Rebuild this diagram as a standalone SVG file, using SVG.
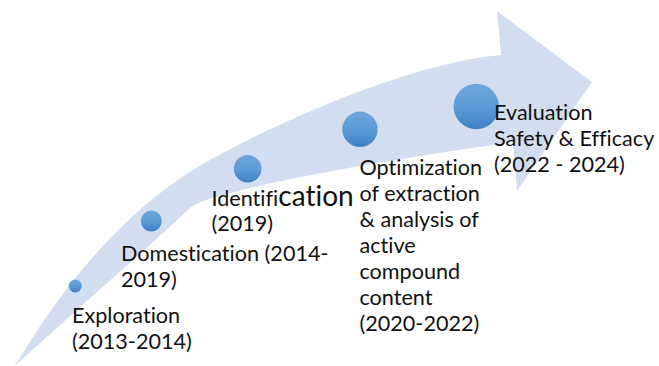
<svg xmlns="http://www.w3.org/2000/svg" width="659" height="366" viewBox="0 0 659 366">
  <defs>
    <linearGradient id="ball" x1="0" y1="0" x2="0" y2="1">
      <stop offset="0" stop-color="#6FA7DE"/>
      <stop offset="0.5" stop-color="#5B9BD8"/>
      <stop offset="1" stop-color="#3F80C6"/>
    </linearGradient>
    <style>
      .milestone { fill: url(#ball); }
      .label { font-family: Lato, "Liberation Sans", sans-serif; font-size: 21.6px; fill: #111111; font-variant-ligatures: none; }
    </style>
  </defs>
  <rect width="659" height="366" fill="#ffffff"/>

  <!-- curved progress arrow -->
  <g id="arrow">
    <path fill="#D2DEEF" d="M15,366
      C60,290 120,215 193,170
      C259,129.5 410,62 501,55
      L497,11 L592,82 L517,191 L513,142
      C330,168 205,194 190,208
      C140,255 70,315 15,366 Z"/>
  </g>

  <g id="exploration">
    <circle class="milestone" cx="75.3" cy="286" r="6.5"/>
    <text class="label" x="72" y="323">Exploration</text>
    <text class="label" x="72" y="349">(2013-2014)</text>
  </g>

  <g id="domestication">
    <circle class="milestone" cx="151.3" cy="221" r="10.5"/>
    <text class="label" x="121" y="260.5">Domestication (2014-</text>
    <text class="label" x="121" y="286.5">2019)</text>
  </g>

  <g id="identification">
    <circle class="milestone" cx="247.7" cy="168.7" r="13.8"/>
    <text class="label" x="211.5" y="205.5">Identifi<tspan font-size="28">cation</tspan></text>
    <text class="label" x="211.5" y="231">(2019)</text>
  </g>

  <g id="optimization">
    <circle class="milestone" cx="360" cy="129.3" r="17.7"/>
    <text class="label" x="359.5" y="175">Optimization</text>
    <text class="label" x="359.5" y="201">of extraction</text>
    <text class="label" x="359.5" y="227">&amp; analysis of</text>
    <text class="label" x="359.5" y="253">active</text>
    <text class="label" x="359.5" y="279">compound</text>
    <text class="label" x="359.5" y="305">content</text>
    <text class="label" x="359.5" y="331">(2020-2022)</text>
  </g>

  <g id="evaluation">
    <circle class="milestone" cx="476.3" cy="106.5" r="22.7"/>
    <text class="label" x="494" y="120">Evaluation</text>
    <text class="label" x="494" y="146">Safety &amp; Efficacy</text>
    <text class="label" x="494" y="172">(2022 - 2024)</text>
  </g>

  <g id="connectors"/>
</svg>
